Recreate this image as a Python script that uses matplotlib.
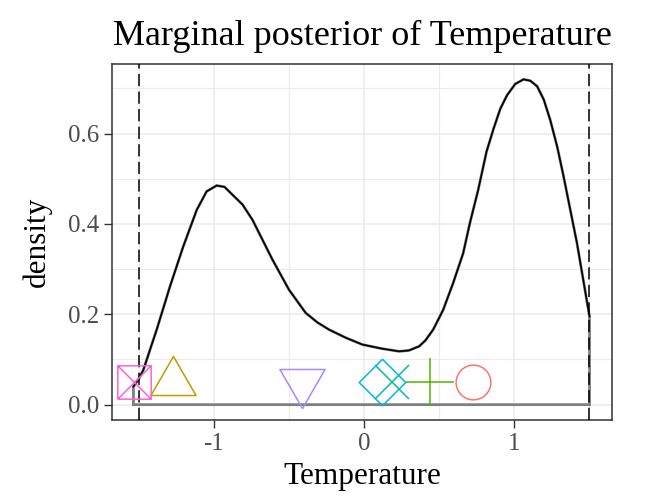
import matplotlib
matplotlib.use('Agg')
import matplotlib.pyplot as plt
from matplotlib.path import Path

plt.rcParams['font.family'] = ['Liberation Serif', 'DejaVu Serif']
plt.rcParams['axes.unicode_minus'] = False

# ── Data ─────────────────────────────────────────────────────────────────────
temp = [-1.537, -1.50, -1.471, -1.382, -1.293, -1.205, -1.115, -1.049,
        -0.982, -0.93, -0.893, -0.81, -0.743, -0.61, -0.499, -0.388,
        -0.31, -0.232, -0.12, -0.01, 0.12, 0.235, 0.30, 0.368, 0.41, 0.462,
        0.529, 0.595, 0.662, 0.707, 0.762, 0.818, 0.866, 0.91, 0.955, 1.01,
        1.065, 1.11, 1.155, 1.20, 1.243, 1.29, 1.332, 1.421, 1.505]
density = [0.04, 0.058, 0.077, 0.166, 0.262, 0.35, 0.431, 0.472,
           0.485, 0.482, 0.470, 0.443, 0.409, 0.321, 0.254, 0.203,
           0.182, 0.166, 0.148, 0.133, 0.124, 0.118, 0.120, 0.129, 0.142, 0.166,
           0.21, 0.269, 0.335, 0.402, 0.475, 0.56, 0.612, 0.655, 0.685, 0.710,
           0.72, 0.717, 0.705, 0.675, 0.63, 0.57, 0.505, 0.358, 0.195]

bounds = [-1.5, 1.5]

point_x = [0.73, -1.27, 0.44, 0.19, 0.12, -0.41, -1.535]
point_y = [0.05, 0.05, 0.05, 0.05, 0.05, 0.05, 0.05]
point_shapes = ['circle', 'triangle', 'plus', 'cross', 'diamond', 'down', 'squarecross']
point_colors = ['#F8766D', '#C49A00', '#53B400', '#00C094', '#00B6EB', '#A58AFF', '#FB61D7']

# ── Marker shapes (ggplot open shapes 1-7, centred like R does) ─────────────
M, L = Path.MOVETO, Path.LINETO
shapes = {
    'circle': ('o', 25),
    'triangle': (Path([(0, 1), (-0.866, -0.5), (0.866, -0.5), (0, 1)]), 37.5),
    'plus': ('+', 35),
    'cross': ('x', 24),
    'diamond': (Path([(0, 1), (1, 0), (0, -1), (-1, 0), (0, 1)]), 33.5),
    'down': (Path([(0, -1), (-0.866, 0.5), (0.866, 0.5), (0, -1)]), 37.5),
    'squarecross': (Path([(-1, -1), (1, -1), (1, 1), (-1, 1), (-1, -1),
                          (-1, -1), (1, 1), (-1, 1), (1, -1)],
                         [M, L, L, L, L, M, L, M, L]), 24),
}

fig = plt.figure(figsize=(6.46, 4.97), dpi=100)
ax = fig.add_axes([0.1734, 0.1549, 0.9474 - 0.1734, 0.8712 - 0.1549])

# grid like theme_bw
ax.set_xticks([-1, 0, 1])
ax.set_xticks([-1.5, -0.5, 0.5, 1.5], minor=True)
ax.set_yticks([0.0, 0.2, 0.4, 0.6])
ax.set_yticks([0.1, 0.3, 0.5, 0.7], minor=True)
ax.grid(True, which='major', color='#EBEBEB', lw=1.1, zorder=0)
ax.grid(True, which='minor', color='#EBEBEB', lw=0.8, zorder=0)
ax.set_axisbelow(True)

# density outline (grey) and curve (black)
ax.plot([temp[0]] + temp + [temp[-1], temp[0]],
        [0] + density + [0, 0], color='#7F7F7F', lw=2.0, zorder=2,
        solid_joinstyle='miter')
ax.plot(temp, density, color='black', lw=1.2, zorder=3)

# prior bounds
for b in bounds:
    ax.axvline(b, color='black', lw=1.1, linestyle=(0, (8, 3.5)), zorder=4)

# points
for x, y, s, c in zip(point_x, point_y, point_shapes, point_colors):
    mk, ms = shapes[s]
    ax.plot([x], [y], linestyle='none', marker=mk, markersize=ms,
            markerfacecolor='none', markeredgecolor=c, markeredgewidth=1.1,
            zorder=5)

ax.set_xlim(-1.68, 1.655)
ax.set_ylim(-0.034, 0.754)

ax.set_yticklabels(['0.0', '0.2', '0.4', '0.6'])
ax.tick_params(which='major', length=5.5, width=1.0, color='#333333',
               labelsize=18, labelcolor='#4D4D4D')
ax.tick_params(axis='x', pad=4)
ax.tick_params(axis='y', pad=3.5)
ax.tick_params(which='minor', length=0)
for sp in ax.spines.values():
    sp.set_color('#333333')
    sp.set_linewidth(1.1)

ax.set_xlabel('Temperature', fontsize=22.5, labelpad=5)
ax.set_ylabel('density', fontsize=22.5, labelpad=12)
ax.set_title('Marginal posterior of Temperature', fontsize=26, pad=14)

fig.savefig('out.png', dpi=100, facecolor='white')
